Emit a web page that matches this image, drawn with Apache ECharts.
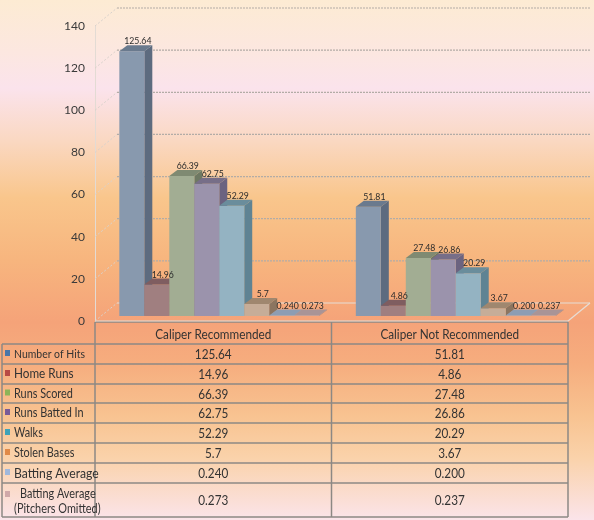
<!DOCTYPE html>
<html><head><meta charset="utf-8">
<script src="https://cdn.jsdelivr.net/npm/echarts@6/dist/echarts.min.js"></script>
<style>html,body{margin:0;padding:0;background:#fff;}#c{width:594px;height:520px;}</style>
</head><body><div id="c"></div>
<script>
// ---------- data ----------
const categories = ['Caliper Recommended', 'Caliper Not Recommended'];
const seriesNames = ['Number of Hits', 'Home Runs', 'Runs Scored', 'Runs Batted In', 'Walks', 'Stolen Bases', 'Batting Average', 'Batting Average (Pitchers Omitted)'];
const numberOfHits = [125.64, 51.81];
const homeRuns = [14.96, 4.86];
const runsScored = [66.39, 27.48];
const runsBattedIn = [62.75, 26.86];
const walks = [52.29, 20.29];
const stolenBases = [5.7, 3.67];
const battingAverage = [0.240, 0.200];
const battingAverageNoPitchers = [0.273, 0.237];
const seriesValues = [numberOfHits, homeRuns, runsScored, runsBattedIn, walks, stolenBases, battingAverage, battingAverageNoPitchers];
const valueDecimals = [null, null, null, null, null, null, 3, 3];
const yMin = 0, yMax = 140, yInterval = 20;
const yTicks = [0, 20, 40, 60, 80, 100, 120, 140];

// ---------- style ----------
const frontColors = ['#8899ae', '#a07f80', '#a2ad93', '#9b93ac', '#94b3c2', '#c6ad98', '#a8b7cb', '#cbb6b8'];
const topColors   = ['#6a7a8e', '#7f5d60', '#7f8a72', '#776e88', '#6a8d9c', '#9f876f', '#8d9db3', '#a99496'];
const sideColors  = ['#5d6b7f', '#6e5153', '#6e7862', '#6b6380', '#5f8393', '#8c7560', '#7d8ca2', '#978284'];
const keyColors   = ['#4a76a8', '#b84a44', '#8db458', '#7a5c98', '#3fa3b8', '#e08a48', '#a0b8dc', '#d0a8a8'];
const FONT = 'Lato, "Open Sans", sans-serif';
const SX = 0.87;                    // horizontal condensing of text
const DX = 22, DY = -18;            // wall depth
const BOX = 6, BOY = -5;            // bars set back into depth
const BDX = 8, BDY = -6;            // bar depth

function fmt(v, d) { return d == null ? String(v) : v.toFixed(d); }

const chart = echarts.init(document.getElementById('c'), null, {renderer: 'canvas'});

function wallRender(params, api) {
  const v = api.value(1);
  const p = api.coord([0, v]);
  const band = api.size([1, 0])[0];
  const xL = p[0] - band / 2;
  const xR = xL + band * categories.length;
  const y = p[1];
  const ch = [];
  ch.push({type: 'line', shape: {x1: xL, y1: y, x2: xL + DX, y2: y + DY},
           style: {stroke: '#d9d2cc', lineWidth: 1, lineDash: [2, 2]}});
  ch.push({type: 'line', shape: {x1: xL + DX, y1: y + DY, x2: xR + DX, y2: y + DY},
           style: {stroke: v === 0 ? '#e6ddd6' : '#b3aca6', lineWidth: 1.2, lineDash: v === 0 ? null : [2, 1]}});
  if (v === 0) {
    ch.push({type: 'line', shape: {x1: xL, y1: y, x2: xR, y2: y}, style: {stroke: '#e6ddd6', lineWidth: 1.2}});
    ch.push({type: 'line', shape: {x1: xR, y1: y, x2: xR + DX, y2: y + DY}, style: {stroke: '#e6ddd6', lineWidth: 1.2}});
  }
  return {type: 'group', children: ch};
}

function barRender(si) {
  return function (params, api) {
    const cat = api.value(0), v = api.value(1);
    const base = api.coord([cat, 0]);
    const top = api.coord([cat, v]);
    const band = api.size([1, 0])[0];
    const n = seriesNames.length;
    const bw = band * 0.845 / n;
    const x0 = base[0] - bw * n / 2 + si * bw + BOX;
    const x1 = x0 + bw;
    const yb = base[1] + BOY, yt = top[1] + BOY;
    return {type: 'group', children: [
      {type: 'polygon', shape: {points: [[x1, yt], [x1 + BDX, yt + BDY], [x1 + BDX, yb + BDY], [x1, yb]]},
       style: {fill: sideColors[si]}},
      {type: 'rect', shape: {x: x0, y: yt, width: bw, height: Math.max(yb - yt, 0.5)},
       style: {fill: frontColors[si]}},
      {type: 'polygon', shape: {points: [[x0, yt], [x1, yt], [x1 + BDX, yt + BDY], [x0 + BDX, yt + BDY]]},
       style: {fill: topColors[si]}},
      {type: 'text', z2: 100, x: (x0 + x1) / 2 + BDX / 2 + 2, y: yt + BDY + 1, scaleX: SX,
       style: {text: fmt(v, valueDecimals[si]), x: 0, y: 0,
        align: 'center', verticalAlign: 'bottom', fontSize: 10, fill: '#2b2b2b', fontFamily: FONT}}
    ]};
  };
}

const series = [{
  type: 'custom', name: 'walls', z: 1, silent: true,
  renderItem: wallRender,
  data: yTicks.map(t => [0, t])
}];
seriesNames.forEach((name, si) => {
  series.push({
    type: 'custom', name: name, z: 2,
    renderItem: barRender(si),
    data: seriesValues[si].map((v, ci) => [ci, v])
  });
});

const option = {
  animation: false,
  backgroundColor: {
    type: 'linear', x: 0, y: 0, x2: 0, y2: 1,
    colorStops: [
      {offset: 0, color: '#fdebd3'},
      {offset: 0.1, color: '#fce7e0'},
      {offset: 0.17, color: '#fbe3ec'},
      {offset: 0.27, color: '#fad8c2'},
      {offset: 0.38, color: '#f9c68c'},
      {offset: 0.5, color: '#f7b57e'},
      {offset: 0.62, color: '#f5a379'},
      {offset: 0.7, color: '#f6ad7e'},
      {offset: 0.8, color: '#f8c391'},
      {offset: 0.88, color: '#fad2aa'},
      {offset: 1, color: '#fbe4ea'}
    ]
  },
  grid: {left: 95, right: 26, top: 26, bottom: 199, containLabel: false},
  xAxis: {type: 'category', data: categories, axisLabel: {show: false}, axisLine: {show: false}, axisTick: {show: false}},
  yAxis: {
    type: 'value', min: yMin, max: yMax, interval: yInterval,
    axisLine: {show: true, lineStyle: {color: '#e3dbd4', width: 1}},
    axisTick: {show: false}, splitLine: {show: false},
    axisLabel: {fontSize: 12, color: '#3a3a3a', margin: 10, fontFamily: FONT}
  },
  series: series
};
chart.setOption(option);

// ---------- data table ----------
const p0 = chart.convertToPixel({gridIndex: 0}, [0, 0]);
const p1 = chart.convertToPixel({gridIndex: 0}, [1, 0]);
const band = p1[0] - p0[0];
const colEdges = [p0[0] - band / 2, p0[0] + band / 2, p1[0] + band / 2];
const yTop = p0[1] + 1;
const tableLeft = 2;
const rowLines = [344, 364, 384, 403, 423, 443, 463, 483, 517];
const labelSizes = [12, 13.5, 12.5, 12.5, 12.5, 12.5, 14, 12.5];
const LC = '#8c8884';
const TC = '#333333';
const g = [];
function hline(x1, x2, y) { g.push({type: 'line', shape: {x1: x1, y1: y, x2: x2, y2: y}, style: {stroke: LC, lineWidth: 1.5}}); }
function vline(x, y1, y2) { g.push({type: 'line', shape: {x1: x, y1: y1, x2: x, y2: y2}, style: {stroke: LC, lineWidth: 1.5}}); }
function txt(s, x, y, size, align) {
  g.push({type: 'text', x: x, y: y, scaleX: SX,
    style: {text: s, x: 0, y: 0, align: align, verticalAlign: 'middle', fontSize: size, fill: TC, fontFamily: FONT}});
}
hline(colEdges[0], colEdges[2], yTop);
rowLines.forEach(y => hline(tableLeft, colEdges[2], y));
vline(tableLeft, rowLines[0], rowLines[rowLines.length - 1]);
colEdges.forEach(x => vline(x, yTop, rowLines[rowLines.length - 1]));
categories.forEach((c, ci) => {
  txt(c, (colEdges[ci] + colEdges[ci + 1]) / 2, (yTop + rowLines[0]) / 2 + 2, 13.5, 'center');
});
seriesNames.forEach((name, si) => {
  const yc = (rowLines[si] + rowLines[si + 1]) / 2;
  const last = si === seriesNames.length - 1;
  g.push({type: 'rect', shape: {x: 5, y: (last ? yc - 9 : yc - 4), width: 5, height: 6}, style: {fill: keyColors[si]}});
  if (last) {
    txt('Batting Average', 20, yc - 6, labelSizes[si], 'left');
    txt('(Pitchers Omitted)', 14, yc + 9, labelSizes[si], 'left');
  } else {
    txt(name, 14, yc, labelSizes[si], 'left');
  }
  seriesValues[si].forEach((v, ci) => {
    txt(fmt(v, valueDecimals[si]), (colEdges[ci] + colEdges[ci + 1]) / 2, yc + 1, 13.5, 'center');
  });
});
chart.setOption({graphic: {elements: g}});
</script>
</body></html>
